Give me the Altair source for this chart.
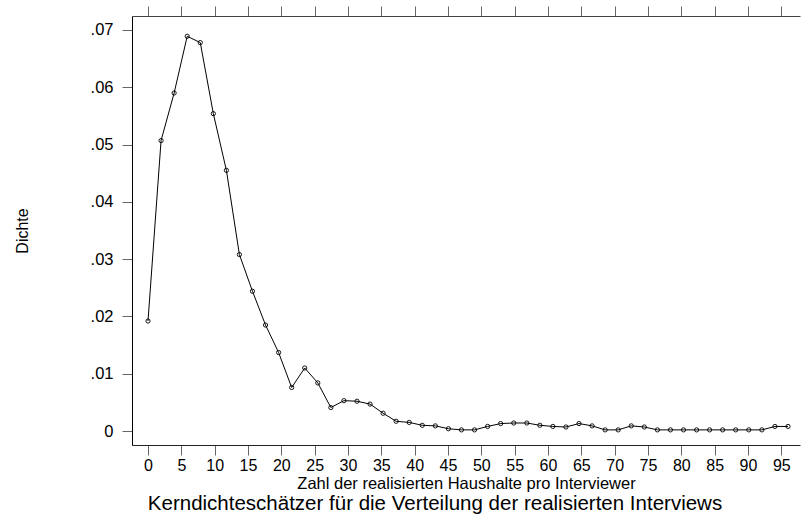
import altair as alt
import pandas as pd

# Evaluation grid (x) and estimated kernel density (y)
x_vals = [0.00, 1.96, 3.92, 5.88, 7.84, 9.80, 11.76, 13.71, 15.67, 17.63,
          19.59, 21.55, 23.51, 25.47, 27.43, 29.39, 31.35, 33.31, 35.27, 37.22,
          39.18, 41.14, 43.10, 45.06, 47.02, 48.98, 50.94, 52.90, 54.86, 56.82,
          58.78, 60.73, 62.69, 64.65, 66.61, 68.57, 70.53, 72.49, 74.45, 76.41,
          78.37, 80.33, 82.29, 84.24, 86.20, 88.16, 90.12, 92.08, 94.04, 96.00]
density = [0.0192, 0.0507, 0.0590, 0.0689, 0.0678, 0.0554, 0.0455, 0.0308, 0.0244, 0.0185,
           0.0137, 0.0076, 0.0110, 0.0084, 0.0041, 0.0053, 0.0052, 0.0047, 0.0031, 0.0017,
           0.0015, 0.0010, 0.0009, 0.0004, 0.0002, 0.0002, 0.0008, 0.0013, 0.0014, 0.0014,
           0.0010, 0.0008, 0.0007, 0.0013, 0.0009, 0.0002, 0.0002, 0.0009, 0.0007, 0.0002,
           0.0002, 0.0002, 0.0002, 0.0002, 0.0002, 0.0002, 0.0002, 0.0002, 0.0008, 0.0008]

x_ticks = [0, 5, 10, 15, 20, 25, 30, 35, 40, 45, 50, 55, 60, 65, 70, 75, 80, 85, 90, 95]
y_ticks = [0, 0.01, 0.02, 0.03, 0.04, 0.05, 0.06, 0.07]

x_title = "Zahl der realisierten Haushalte pro Interviewer"
y_title = "Dichte"
main_title = "Kerndichteschätzer für die Verteilung der realisierten Interviews"

FONT = "Liberation Sans"

df = pd.DataFrame({"x": x_vals, "density": density})

x_scale = alt.Scale(domain=[-2.4, 97.8], nice=False, zero=False)
y_scale = alt.Scale(domain=[-0.00244, 0.07244], nice=False, zero=False)

x_bottom = alt.X(
    "x:Q", scale=x_scale,
    axis=alt.Axis(orient="bottom", values=x_ticks, title=x_title, grid=False,
                  tickSize=10, tickColor="#666666", domainColor="#222222",
                  labelFontSize=16, labelFont=FONT, labelColor="black", labelPadding=2,
                  titleFontSize=16.5, titleFont=FONT, titleFontWeight="normal",
                  titleColor="black", titlePadding=2, labelFlush=False,
                  labelOverlap=False))
x_top = alt.X(
    "x:Q", scale=x_scale,
    axis=alt.Axis(orient="top", values=x_ticks, title=None, labels=False, grid=False,
                  tickSize=10, tickColor="#666666", domainColor="#444444"))
y_left = alt.Y(
    "density:Q", scale=y_scale,
    axis=alt.Axis(orient="left", values=y_ticks, title=y_title, grid=False,
                  labelExpr="datum.value == 0 ? '0' : substring(format(datum.value, '.2f'), 1)",
                  tickSize=10, tickColor="#666666", domainColor="black",
                  labelFontSize=16.5, labelFont=FONT, labelColor="black", labelPadding=9,
                  titleFontSize=16, titleFont=FONT, titleFontWeight="normal",
                  titleColor="black", titlePadding=60, labelFlush=False,
                  labelOverlap=False))

line = alt.Chart(df).mark_line(color="black", strokeWidth=1).encode(x=x_bottom, y=y_left)
pts = alt.Chart(df).mark_point(shape="circle", filled=False, color="black", size=18,
                               strokeWidth=0.9, opacity=1).encode(x=x_top, y=y_left)

chart = alt.layer(line, pts).resolve_axis(x="independent").properties(
    width=668, height=429,
    title=alt.TitleParams(text=main_title, orient="bottom", anchor="middle",
                          fontSize=20.5, font=FONT, fontWeight="normal", color="black",
                          dx=-31, offset=2),
    padding={"left": 132, "top": 16, "right": 1, "bottom": 71},
    autosize=alt.AutoSizeParams(type="none"),
    background="white",
).configure_view(stroke=None)

chart.save("out.html", embed_options={"renderer": "svg", "actions": False})
